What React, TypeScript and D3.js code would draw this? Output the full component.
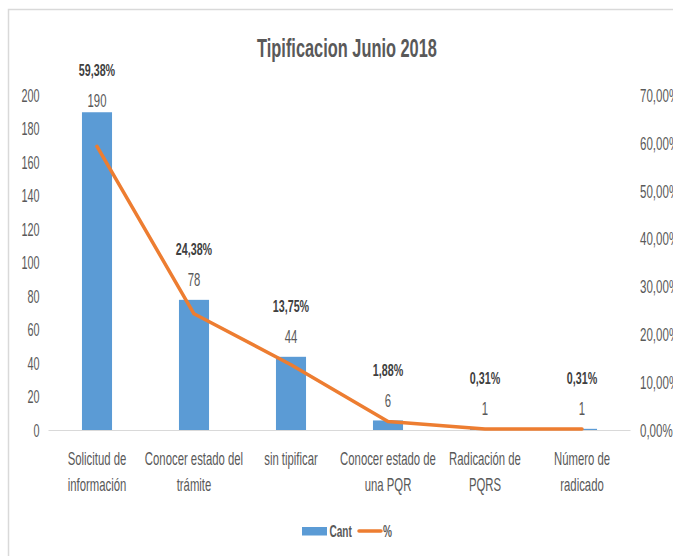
import React from "react";
import * as d3 from "d3";

const categories: string[][] = [
  ["Solicitud de", "información"],
  ["Conocer estado del", "trámite"],
  ["sin tipificar"],
  ["Conocer estado de", "una PQR"],
  ["Radicación de", "PQRS"],
  ["Número de", "radicado"],
];
const counts: number[] = [190, 78, 44, 6, 1, 1];
const percents: number[] = [0.5938, 0.2438, 0.1375, 0.0188, 0.0031, 0.0031];
const countTicks: number[] = [0, 20, 40, 60, 80, 100, 120, 140, 160, 180, 200];
const pctTicks: number[] = [0, 0.1, 0.2, 0.3, 0.4, 0.5, 0.6, 0.7];
const title = "Tipificacion Junio 2018";
const legendItems = ["Cant", "%"];

const W = 673;
const H = 556;
const SX = 0.63;
const FONT = "'Liberation Sans', Arial, sans-serif";
const BLUE = "#5B9BD5";
const ORANGE = "#ED7D31";
const GREY = "#595959";

const fmtPct = (v: number) => (v * 100).toFixed(2).replace(".", ",") + "%";

type TProps = {
  x: number;
  y: number;
  size: number;
  weight?: string | number;
  fill?: string;
  anchor?: "start" | "middle" | "end";
  dy?: string;
  sx?: number;
  children: React.ReactNode;
};
const T = ({ x, y, size, weight = "normal", fill = GREY, anchor = "middle", dy = "0", sx = SX, children }: TProps) => (
  <text
    transform={`translate(${x},${y}) scale(${sx},1)`}
    fontSize={size}
    fontWeight={weight}
    fill={fill}
    textAnchor={anchor}
    dy={dy}
    fontFamily={FONT}
  >
    {children}
  </text>
);

export default function App() {
  const keys = categories.map((c) => c.join(" "));
  const x = d3
    .scaleBand<string>()
    .domain(keys)
    .range([48.5, 630.5])
    .paddingInner(0.69)
    .paddingOuter(0.345);
  const y = d3.scaleLinear().domain([0, 200]).range([430.5, 95.5]);
  const yp = d3.scaleLinear().domain([0, 0.7]).range([430.5, 95.5]);
  const cx = (i: number) => (x(keys[i]) as number) + x.bandwidth() / 2;

  const line = d3
    .line<number>()
    .x((_, i) => cx(i))
    .y((d) => yp(d));

  const valueLabelY = (v: number) => Math.max(y(v) - 20, y(200) + 5);

  return (
    <svg
      width={W}
      height={H}
      style={{ position: "absolute", left: 0, top: 0, background: "#fff" }}
    >
      <rect x={8.5} y={9.5} width={W + 10} height={H + 10} fill="#fff" stroke="#d9d9d9" strokeWidth={1.5} />

      <T x={347} y={56.5} size={26} weight="bold">
        {title}
      </T>

      {/* left axis */}
      {countTicks.map((t) => (
        <T key={"l" + t} x={39.5} y={y(t)} size={17.5} anchor="end" dy="0.36em" sx={0.62}>
          {t}
        </T>
      ))}
      {/* right axis */}
      {pctTicks.map((t) => (
        <T key={"r" + t} x={640} y={yp(t)} size={17.5} anchor="start" dy="0.36em" sx={0.66}>
          {fmtPct(t)}
        </T>
      ))}

      {/* bars */}
      {counts.map((v, i) => (
        <rect
          key={"b" + i}
          x={x(keys[i]) as number}
          y={y(v)}
          width={x.bandwidth()}
          height={y(0) - y(v)}
          fill={BLUE}
        />
      ))}

      {/* baseline */}
      <line x1={48.5} x2={630.5} y1={430.5} y2={430.5} stroke="#d9d9d9" strokeWidth={1} />

      {/* line */}
      <path d={line(percents) as string} fill="none" stroke={ORANGE} strokeWidth={3.5} strokeLinejoin="round" strokeLinecap="round" />

      {/* value labels */}
      {counts.map((v, i) => (
        <T key={"v" + i} x={cx(i)} y={valueLabelY(v)} size={18} dy="0.36em">
          {v}
        </T>
      ))}
      {/* percent labels */}
      {percents.map((p, i) => (
        <T key={"p" + i} x={cx(i)} y={valueLabelY(counts[i]) - 31} size={17} weight="bold" fill="#404040" dy="0.36em">
          {fmtPct(p)}
        </T>
      ))}

      {/* category labels */}
      {categories.map((lines, i) =>
        lines.map((ln, j) => (
          <T key={"c" + i + "-" + j} x={cx(i)} y={465 + j * 25.5} size={18}>
            {ln}
          </T>
        ))
      )}

      {/* legend */}
      <rect x={302} y={527} width={25} height={8.5} fill={BLUE} />
      <T x={329.5} y={531} size={16} weight="bold" anchor="start" dy="0.36em">
        {legendItems[0]}
      </T>
      <line x1={359} x2={381} y1={531} y2={531} stroke={ORANGE} strokeWidth={3.5} strokeLinecap="round" />
      <T x={383} y={531} size={16} weight="bold" anchor="start" dy="0.36em">
        {legendItems[1]}
      </T>
    </svg>
  );
}
